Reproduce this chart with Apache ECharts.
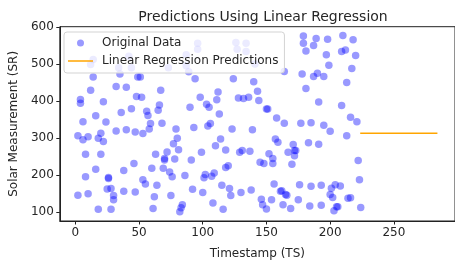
<!DOCTYPE html>
<html>
<head>
<meta charset="utf-8">
<script src="https://cdn.jsdelivr.net/npm/echarts@6/dist/echarts.min.js"></script>
<style>html,body{margin:0;padding:0;background:#fff}#c{width:455px;height:265px}</style>
</head>
<body>
<div id="c"></div>
<script>
const timestamps = [2,2,4,4,6,6,8,8,10,10,12,12,14,14,16,16,18,18,20,20,22,22,24,25,26,26,28,28,30,30,32,32,34,35,36,38,38,40,40,42,44,44,46,47,47,48,49,51,52,53,53,55,56,57,58,59,60,61,62,63,64,65,66,67,68,69,70,70,72,73,74,75,76,77,78,79,80,81,82,83,84,86,87,87,89,90,91,92,93,94,96,96,98,99,100,101,102,103,104,105,106,107,108,109,110,111,112,113,114,115,116,118,118,120,121,122,123,124,126,127,128,129,130,131,132,134,134,136,137,138,139,140,141,143,144,145,146,147,148,150,150,151,152,154,155,155,156,158,157,159,161,162,163,164,164,165,166,167,169,170,171,172,172,173,175,176,177,178,179,179,181,181,183,184,185,185,187,187,189,190,191,191,193,193,195,195,197,198,199,200,200,201,202,203,204,205,206,208,209,209,210,212,213,213,214,216,216,217,218,220,221,222,223,224];
const solar = [145,306,404,394,344,295,256,195,149,303,429,499,465,512,360,215,107,299,313,256,290,398,343,162,193,190,107,163,144,133,319,439,490,473,369,212,156,322,437,521,490,379,231,154,316,412,465,465,410,312,187,175,372,361,324,339,218,109,141,256,172,375,389,429,340,218,244,240,262,490,208,144,195,284,243,324,299,268,100,111,119,198,495,525,479,383,240,161,328,460,556,540,410,261,152,192,201,391,332,383,339,196,124,205,279,403,424,365,297,172,107,267,220,225,163,144,324,460,558,540,408,261,152,266,407,556,534,410,264,159,322,452,500,426,401,234,134,119,231,108,378,378,257,133,244,231,175,354,297,288,156,157,119,340,480,147,145,261,109,229,282,252,266,266,133,173,340,473,556,576,535,434,287,116,169,341,466,550,569,475,397,283,118,172,334,466,525,567,497,318,147,164,139,103,173,114,114,170,388,534,577,538,450,306,137,138,356,488,566,523,344,239,187,112];
const predX = [223.6, 284.2];
const predY = [313, 313];
const xTicks = [0, 50, 100, 150, 200, 250];
const yTicks = [100, 200, 300, 400, 500, 600];

const scatterData = timestamps.map((t, i) => [t, solar[i]]);
const lineData = predX.map((t, i) => [t, predY[i]]);
const font = 'DejaVu Sans';
const txt = '#262626';

const chart = echarts.init(document.getElementById('c'), null, {renderer: 'canvas'});
chart.setOption({
  animation: false,
  backgroundColor: '#fff',
  title: {
    text: 'Predictions Using Linear Regression',
    left: 258, top: 5, textAlign: 'center',
    textStyle: {fontFamily: font, fontSize: 14, fontWeight: 'normal', color: txt}
  },
  legend: {
    orient: 'vertical',
    left: 64, top: 32,
    padding: [4, 6, 5, 4],
    itemWidth: 25, itemHeight: 7, itemGap: 4,
    backgroundColor: 'rgba(255,255,255,0.8)',
    borderColor: '#d3d3d3', borderWidth: 1, borderRadius: 3,
    textStyle: {fontFamily: font, fontSize: 12, color: txt, lineHeight: 14, padding: [0, 0, 0, 4]},
    data: [
      {name: 'Original Data', icon: 'circle'},
      {name: 'Linear Regression Predictions', icon: 'path://M0,0 L25,0 L25,1.5 L0,1.5 Z'}
    ]
  },
  grid: {left: 58, right: -3, top: 26.7, bottom: 39.3, show: true, borderColor: '#222', borderWidth: 1, backgroundColor: 'transparent'},
  xAxis: {
    type: 'value', min: -12.2, max: 298,
    name: 'Timestamp (TS)', nameLocation: 'middle', nameGap: 27,
    nameTextStyle: {fontFamily: font, fontSize: 12, color: txt},
    splitLine: {show: false},
    axisLine: {show: true, onZero: false, lineStyle: {color: '#222'}},
    axisTick: {show: true, length: 3.5, lineStyle: {color: '#222'}, customValues: xTicks},
    axisLabel: {fontFamily: font, fontSize: 12, color: txt, margin: 6, customValues: xTicks}
  },
  yAxis: {
    type: 'value', min: 75.2, max: 601,
    name: 'Solar Measurement (SR)', nameLocation: 'middle', nameGap: 34,
    nameTextStyle: {fontFamily: font, fontSize: 12, color: txt},
    splitLine: {show: false},
    axisLine: {show: true, onZero: false, lineStyle: {color: '#222'}},
    axisTick: {show: true, length: 3.5, lineStyle: {color: '#222'}, customValues: yTicks},
    axisLabel: {fontFamily: font, fontSize: 12, color: txt, margin: 6, customValues: yTicks}
  },
  series: [
    {
      name: 'Original Data', type: 'scatter', data: scatterData,
      symbol: 'circle', symbolSize: 7.5,
      itemStyle: {color: 'rgba(0,0,255,0.5)'}
    },
    {
      name: 'Linear Regression Predictions', type: 'line', data: lineData,
      symbol: 'none', showSymbol: false,
      lineStyle: {color: '#FFA500', width: 1.5},
      itemStyle: {color: '#FFA500'}
    }
  ]
});
</script>
</body>
</html>
